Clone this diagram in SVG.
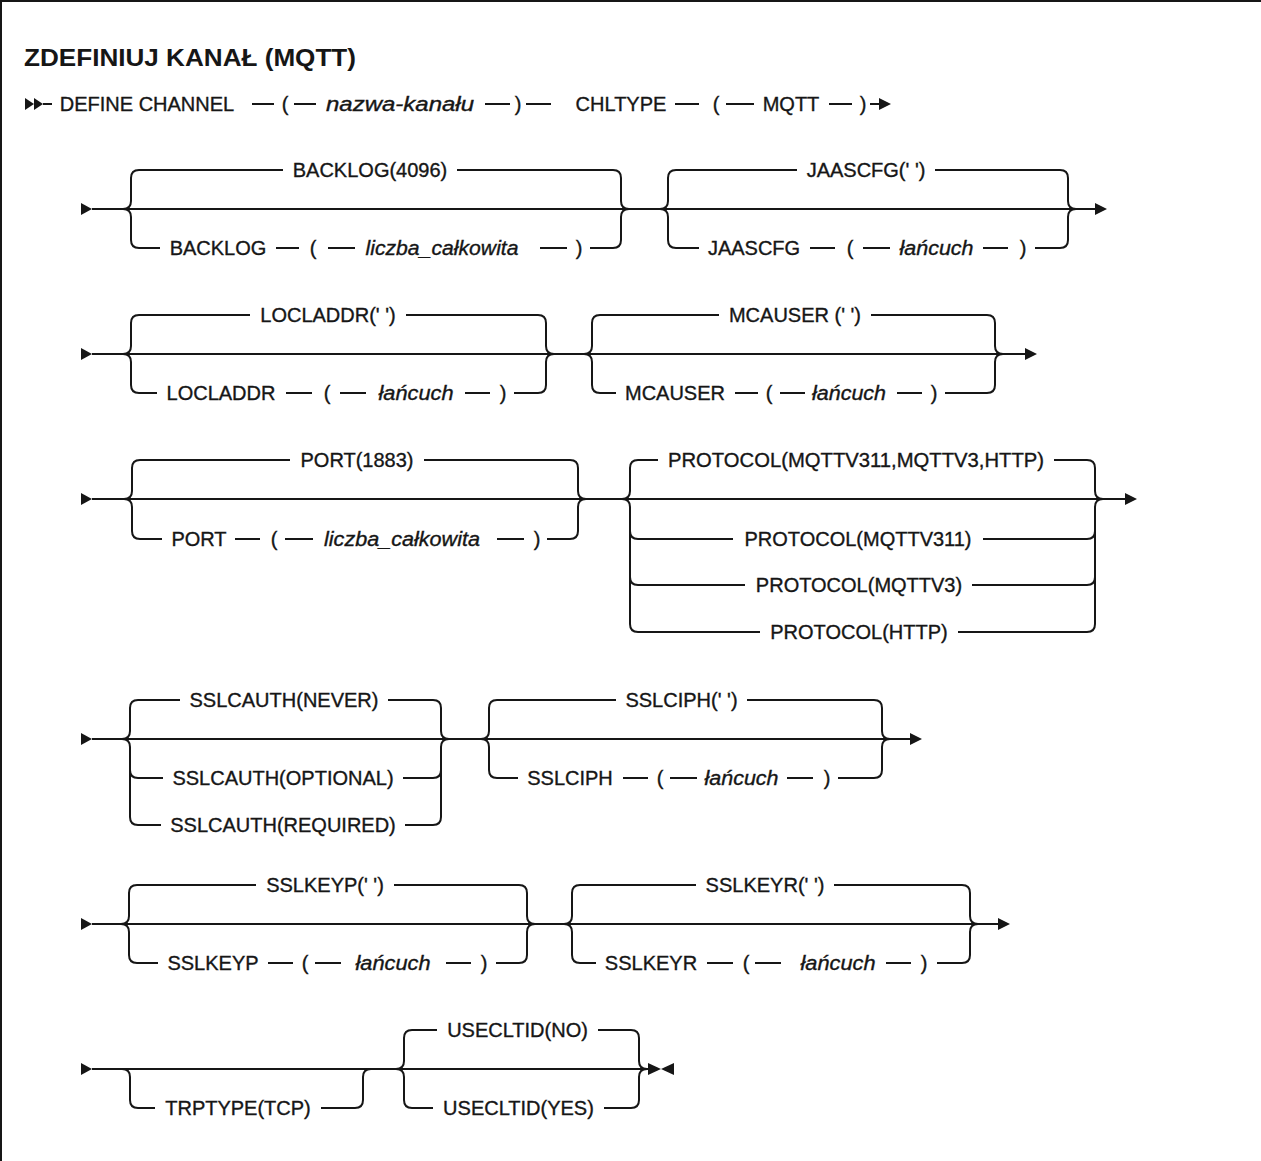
<svg xmlns="http://www.w3.org/2000/svg" width="1261" height="1161" viewBox="0 0 1261 1161">
  <defs>
    <style>
      .ln { fill: none; stroke: #161616; stroke-width: 2; }
      .ah { fill: #161616; stroke: none; }
      .t { font-family: "Liberation Sans", Arial, sans-serif; font-size: 20px; fill: #161616; stroke: #161616; stroke-width: 0.35; text-anchor: middle; }
      .i { font-style: italic; }
      .title { font-family: "Liberation Sans", Arial, sans-serif; font-size: 23px; font-weight: bold; fill: #161616; }
    </style>
  </defs>
  <rect x="0" y="0" width="1261" height="1161" fill="#ffffff"/>
  <path class="ln" d="M1,1161 V1 H1261"/>
  <text class="title" x="24" y="66" textLength="332" lengthAdjust="spacingAndGlyphs">ZDEFINIUJ KANAŁ (MQTT)</text>

  <g id="connectors">
    <!-- row 0: DEFINE CHANNEL ... CHLTYPE(MQTT) -->
    <polygon class="ah" points="25,98 34,104 25,110"/>
    <polygon class="ah" points="34,98 43,104 34,110"/>
    <path class="ln" d="M43,104 H52 M252,104 H274 M294,104 H316 M485,104 H510 M526,104 H551 M675,104 H699 M726,104 H754 M829,104 H852 M870,104 H880"/>
    <polygon class="ah" points="879,98 891,104 879,110"/>

    <!-- row 1: BACKLOG / JAASCFG -->
    <polygon class="ah" points="81,203 92,209 81,215"/>
    <path class="ln" d="M92,209 H1096"/>
    <polygon class="ah" points="1095,203 1107,209 1095,215"/>
    <path class="ln" d="M123,209 Q131,209 131,201 V178 Q131,170 139,170 M123,209 Q131,209 131,217 V240 Q131,248 139,248"/>
    <path class="ln" d="M629,209 Q621,209 621,201 V178 Q621,170 613,170 M629,209 Q621,209 621,217 V240 Q621,248 613,248"/>
    <path class="ln" d="M139,170 H283 M457,170 H613 M139,248 H160 M276,248 H299 M328,248 H355 M540,248 H567 M590,248 H613"/>
    <path class="ln" d="M660,209 Q668,209 668,201 V178 Q668,170 676,170 M660,209 Q668,209 668,217 V240 Q668,248 676,248"/>
    <path class="ln" d="M1076,209 Q1068,209 1068,201 V178 Q1068,170 1060,170 M1076,209 Q1068,209 1068,217 V240 Q1068,248 1060,248"/>
    <path class="ln" d="M676,170 H797 M935,170 H1060 M676,248 H699 M810,248 H835 M863,248 H890 M983,248 H1008 M1035,248 H1060"/>

    <!-- row 2: LOCLADDR / MCAUSER -->
    <polygon class="ah" points="81,348 92,354 81,360"/>
    <path class="ln" d="M92,354 H1026"/>
    <polygon class="ah" points="1025,348 1037,354 1025,360"/>
    <path class="ln" d="M123,354 Q131,354 131,346 V323 Q131,315 139,315 M123,354 Q131,354 131,362 V385 Q131,393 139,393"/>
    <path class="ln" d="M554,354 Q546,354 546,346 V323 Q546,315 538,315 M554,354 Q546,354 546,362 V385 Q546,393 538,393"/>
    <path class="ln" d="M139,315 H250 M406,315 H538 M139,393 H157 M286,393 H312 M340,393 H366 M465,393 H490 M514,393 H538"/>
    <path class="ln" d="M584,354 Q592,354 592,346 V323 Q592,315 600,315 M584,354 Q592,354 592,362 V385 Q592,393 600,393"/>
    <path class="ln" d="M1003,354 Q995,354 995,346 V323 Q995,315 987,315 M1003,354 Q995,354 995,362 V385 Q995,393 987,393"/>
    <path class="ln" d="M600,315 H719 M871,315 H987 M600,393 H616 M735,393 H758 M780,393 H805 M897,393 H922 M945,393 H987"/>

    <!-- row 3: PORT / PROTOCOL -->
    <polygon class="ah" points="81,493 92,499 81,505"/>
    <path class="ln" d="M92,499 H1126"/>
    <polygon class="ah" points="1125,493 1137,499 1125,505"/>
    <path class="ln" d="M124,499 Q132,499 132,491 V468 Q132,460 140,460 M124,499 Q132,499 132,507 V531 Q132,539 140,539"/>
    <path class="ln" d="M586,499 Q578,499 578,491 V468 Q578,460 570,460 M586,499 Q578,499 578,507 V531 Q578,539 570,539"/>
    <path class="ln" d="M140,460 H290 M424,460 H570 M140,539 H162 M235,539 H260 M285,539 H313 M497,539 H524 M547,539 H570"/>
    <path class="ln" d="M622,499 Q630,499 630,491 V468 Q630,460 638,460 M622,499 Q630,499 630,507 V624 Q630,632 638,632 M630,531 Q630,539 638,539 M630,577 Q630,585 638,585"/>
    <path class="ln" d="M1103,499 Q1095,499 1095,491 V468 Q1095,460 1087,460 M1103,499 Q1095,499 1095,507 V624 Q1095,632 1087,632 M1095,531 Q1095,539 1087,539 M1095,577 Q1095,585 1087,585"/>
    <path class="ln" d="M638,460 H658 M1054,460 H1087 M638,539 H733 M983,539 H1087 M638,585 H745 M972,585 H1087 M638,632 H760 M958,632 H1087"/>

    <!-- row 4: SSLCAUTH / SSLCIPH -->
    <polygon class="ah" points="81,733 92,739 81,745"/>
    <path class="ln" d="M92,739 H911"/>
    <polygon class="ah" points="910,733 922,739 910,745"/>
    <path class="ln" d="M122,739 Q130,739 130,731 V708 Q130,700 138,700 M122,739 Q130,739 130,747 V817 Q130,825 138,825 M130,770 Q130,778 138,778"/>
    <path class="ln" d="M449,739 Q441,739 441,731 V708 Q441,700 433,700 M449,739 Q441,739 441,747 V817 Q441,825 433,825 M441,770 Q441,778 433,778"/>
    <path class="ln" d="M138,700 H180 M388,700 H433 M138,778 H163 M403,778 H433 M138,825 H161 M405,825 H433"/>
    <path class="ln" d="M481,739 Q489,739 489,731 V708 Q489,700 497,700 M481,739 Q489,739 489,747 V770 Q489,778 497,778"/>
    <path class="ln" d="M890,739 Q882,739 882,731 V708 Q882,700 874,700 M890,739 Q882,739 882,747 V770 Q882,778 874,778"/>
    <path class="ln" d="M497,700 H616 M747,700 H874 M497,778 H518 M623,778 H648 M670,778 H697 M787,778 H813 M838,778 H874"/>

    <!-- row 5: SSLKEYP / SSLKEYR -->
    <polygon class="ah" points="81,918 92,924 81,930"/>
    <path class="ln" d="M92,924 H999"/>
    <polygon class="ah" points="998,918 1010,924 998,930"/>
    <path class="ln" d="M121,924 Q129,924 129,916 V893 Q129,885 137,885 M121,924 Q129,924 129,932 V955 Q129,963 137,963"/>
    <path class="ln" d="M535,924 Q527,924 527,916 V893 Q527,885 519,885 M535,924 Q527,924 527,932 V955 Q527,963 519,963"/>
    <path class="ln" d="M137,885 H256 M394,885 H519 M137,963 H158 M268,963 H293 M315,963 H341 M446,963 H471 M496,963 H519"/>
    <path class="ln" d="M564,924 Q572,924 572,916 V893 Q572,885 580,885 M564,924 Q572,924 572,932 V955 Q572,963 580,963"/>
    <path class="ln" d="M978,924 Q970,924 970,916 V893 Q970,885 962,885 M978,924 Q970,924 970,932 V955 Q970,963 962,963"/>
    <path class="ln" d="M580,885 H696 M834,885 H962 M580,963 H596 M707,963 H733 M755,963 H781 M886,963 H911 M937,963 H962"/>

    <!-- row 6: TRPTYPE / USECLTID -->
    <polygon class="ah" points="81,1063 92,1069 81,1075"/>
    <path class="ln" d="M92,1069 H649"/>
    <path class="ln" d="M122,1069 Q130,1069 130,1077 V1100 Q130,1108 138,1108 M371,1069 Q363,1069 363,1077 V1100 Q363,1108 355,1108"/>
    <path class="ln" d="M138,1108 H155 M321,1108 H355"/>
    <path class="ln" d="M396,1069 Q404,1069 404,1061 V1038 Q404,1030 412,1030 M396,1069 Q404,1069 404,1077 V1100 Q404,1108 412,1108"/>
    <path class="ln" d="M647,1069 Q639,1069 639,1061 V1038 Q639,1030 631,1030 M647,1069 Q639,1069 639,1077 V1100 Q639,1108 631,1108"/>
    <path class="ln" d="M412,1030 H437 M598,1030 H631 M412,1108 H433 M604,1108 H631"/>
    <polygon class="ah" points="648,1063 661,1069 648,1075"/>
    <polygon class="ah" points="674,1063 661,1069 674,1075"/>
  </g>

  <g id="n-define">
    <text class="t" x="147" y="111">DEFINE CHANNEL</text>
    <text class="t" x="285" y="111">(</text>
    <text class="t i" x="400" y="111" textLength="148" lengthAdjust="spacingAndGlyphs">nazwa-kanału</text>
    <text class="t" x="518" y="111">)</text>
    <text class="t" x="621" y="111">CHLTYPE</text>
    <text class="t" x="716" y="111">(</text>
    <text class="t" x="791" y="111">MQTT</text>
    <text class="t" x="863" y="111">)</text>
  </g>

  <g id="n-backlog">
    <text class="t" x="370" y="177">BACKLOG(4096)</text>
    <text class="t" x="218" y="255">BACKLOG</text>
    <text class="t" x="313" y="255">(</text>
    <text class="t i" x="442" y="255" textLength="153" lengthAdjust="spacingAndGlyphs">liczba_całkowita</text>
    <text class="t" x="579" y="255">)</text>
  </g>

  <g id="n-jaascfg">
    <text class="t" x="866" y="177">JAASCFG(' ')</text>
    <text class="t" x="754" y="255">JAASCFG</text>
    <text class="t" x="850" y="255">(</text>
    <text class="t i" x="936.5" y="255" textLength="74" lengthAdjust="spacingAndGlyphs">łańcuch</text>
    <text class="t" x="1023" y="255">)</text>
  </g>

  <g id="n-locladdr">
    <text class="t" x="328" y="322">LOCLADDR(' ')</text>
    <text class="t" x="221" y="400">LOCLADDR</text>
    <text class="t" x="327" y="400">(</text>
    <text class="t i" x="416" y="400" textLength="75" lengthAdjust="spacingAndGlyphs">łańcuch</text>
    <text class="t" x="503" y="400">)</text>
  </g>

  <g id="n-mcauser">
    <text class="t" x="795" y="322">MCAUSER (' ')</text>
    <text class="t" x="675" y="400">MCAUSER</text>
    <text class="t" x="769" y="400">(</text>
    <text class="t i" x="849" y="400" textLength="74" lengthAdjust="spacingAndGlyphs">łańcuch</text>
    <text class="t" x="934" y="400">)</text>
  </g>

  <g id="n-port">
    <text class="t" x="357" y="467">PORT(1883)</text>
    <text class="t" x="199" y="546">PORT</text>
    <text class="t" x="274" y="546">(</text>
    <text class="t i" x="402" y="546" textLength="156" lengthAdjust="spacingAndGlyphs">liczba_całkowita</text>
    <text class="t" x="537" y="546">)</text>
  </g>

  <g id="n-protocol">
    <text class="t" x="856" y="467" textLength="376" lengthAdjust="spacingAndGlyphs">PROTOCOL(MQTTV311,MQTTV3,HTTP)</text>
    <text class="t" x="858" y="546">PROTOCOL(MQTTV311)</text>
    <text class="t" x="859" y="592">PROTOCOL(MQTTV3)</text>
    <text class="t" x="859" y="639">PROTOCOL(HTTP)</text>
  </g>

  <g id="n-sslcauth">
    <text class="t" x="284" y="707">SSLCAUTH(NEVER)</text>
    <text class="t" x="283" y="785">SSLCAUTH(OPTIONAL)</text>
    <text class="t" x="283" y="832">SSLCAUTH(REQUIRED)</text>
  </g>

  <g id="n-sslciph">
    <text class="t" x="681.5" y="707">SSLCIPH(' ')</text>
    <text class="t" x="570" y="785">SSLCIPH</text>
    <text class="t" x="660" y="785">(</text>
    <text class="t i" x="741.5" y="785" textLength="74" lengthAdjust="spacingAndGlyphs">łańcuch</text>
    <text class="t" x="827" y="785">)</text>
  </g>

  <g id="n-sslkeyp">
    <text class="t" x="325" y="892">SSLKEYP(' ')</text>
    <text class="t" x="213" y="970">SSLKEYP</text>
    <text class="t" x="305" y="970">(</text>
    <text class="t i" x="393" y="970" textLength="75" lengthAdjust="spacingAndGlyphs">łańcuch</text>
    <text class="t" x="484" y="970">)</text>
  </g>

  <g id="n-sslkeyr">
    <text class="t" x="765" y="892">SSLKEYR(' ')</text>
    <text class="t" x="651" y="970">SSLKEYR</text>
    <text class="t" x="746" y="970">(</text>
    <text class="t i" x="838" y="970" textLength="75" lengthAdjust="spacingAndGlyphs">łańcuch</text>
    <text class="t" x="924" y="970">)</text>
  </g>

  <g id="n-trptype">
    <text class="t" x="238" y="1115">TRPTYPE(TCP)</text>
  </g>

  <g id="n-usecltid">
    <text class="t" x="517.5" y="1037">USECLTID(NO)</text>
    <text class="t" x="518.5" y="1115">USECLTID(YES)</text>
  </g>
</svg>
